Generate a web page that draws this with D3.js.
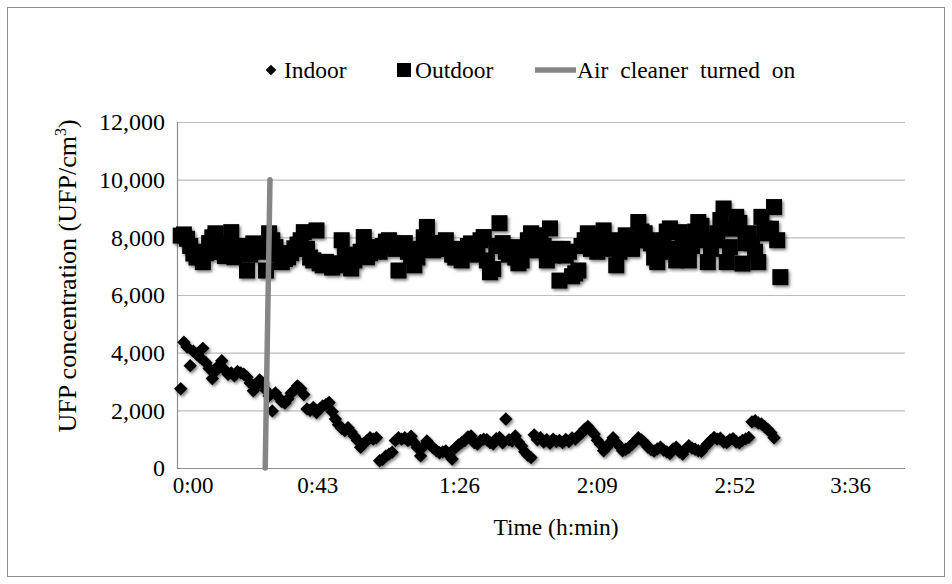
<!DOCTYPE html>
<html>
<head>
<meta charset="utf-8">
<script src="https://cdn.jsdelivr.net/npm/d3@7/dist/d3.min.js"></script>
<style>
  body { margin: 0; background: #fff; }
  svg text { font-family: "Liberation Serif", "Times New Roman", Times, serif; fill: #000; }
</style>
</head>
<body>
<div id="chart"></div>
<script>
const WIDTH = 952;
const HEIGHT = 584;
const SERIF = '"Liberation Serif", "Times New Roman", Times, serif';

// sampling: one reading about every minute, first reading just before 0:00
const START_MIN = -0.9;
const SAMPLE_MIN = 0.99;

const INDOOR = [
  2750,4360,4200,3550,4050,3950,3850,4150,3650,3450,
  3100,3350,3550,3720,3400,3250,3300,3200,3350,3300,
  3250,3150,2950,2680,2850,3050,2950,2700,2500,1980,
  2600,2450,2300,2250,2400,2600,2700,2850,2750,2550,
  2050,2000,2100,1920,2050,2150,2200,2270,1950,1700,
  1500,1380,1300,1400,1250,1100,950,720,850,950,
  1050,1000,1050,250,300,420,480,550,950,1050,
  1000,1050,950,1100,880,700,420,750,940,800,
  700,600,530,560,590,450,310,700,800,880,
  950,1080,1110,880,830,960,1000,980,880,840,
  1020,1060,870,1700,980,930,1110,900,765,560,
  440,360,1150,980,1050,900,980,860,1000,920,
  960,880,990,920,1040,1000,1120,1200,1350,1440,
  1300,1180,960,820,600,720,880,1050,880,760,
  600,650,720,820,930,1050,970,880,730,640,
  590,660,720,620,560,500,660,720,560,480,
  660,770,690,650,600,580,720,840,960,1060,
  1000,1030,900,880,980,1020,900,870,960,1010,
  1060,1600,1640,1560,1530,1430,1340,1220,1050
];

const OUTDOOR = [
  8060,8100,7950,7700,7440,7300,7500,7140,7450,7800,
  8000,8140,7700,7490,7350,7800,8180,7310,7550,7700,
  7500,6850,7400,7790,7700,7620,7500,6850,8140,7900,
  7660,7400,7140,7250,7310,7450,7620,7750,7900,8180,
  7600,7300,7200,8240,7100,7030,7150,7050,6950,7030,
  7100,7900,7400,7050,6920,7200,7350,7500,8010,7310,
  7450,7600,7660,7500,7700,7850,7900,7750,7600,6850,
  7720,7800,7500,7350,7030,7300,7600,8000,8360,7800,
  7550,7700,7600,7800,7900,7600,7400,7300,7500,7200,
  7600,7700,7790,7400,7550,7900,8010,7200,6790,6900,
  7700,8490,7800,7500,7400,7660,7300,7100,7200,7600,
  7900,8140,7550,7800,8070,7700,7200,8310,7370,7600,
  6500,7600,7370,7500,6650,6750,6850,7700,7900,8140,
  7600,7720,7500,8000,8240,7600,7700,7900,7030,7500,
  7800,8070,7700,7600,7900,8530,8200,8140,7900,7790,
  7300,7140,7500,7900,8200,8310,7600,7200,8180,8000,
  7500,7200,7700,8200,8530,8400,7900,7140,7600,7900,
  8140,8600,9000,7140,7660,8300,8710,8500,7090,7800,
  8140,7790,7500,7140,8710,8300,8140,8300,9050,7900,
  6620
];

// air cleaner marker line (minutes, UFP/cm3)
const CLEANER_TIME = [25.6, 27.1];
const CLEANER_VALUE = [0, 10000];

const Y_TICKS = [0, 2000, 4000, 6000, 8000, 10000, 12000];
const X_TICKS = [0, 43.2, 86.4, 129.6, 172.8, 216];
const X_LABELS = ['0:00', '0:43', '1:26', '2:09', '2:52', '3:36'];
// Excel pulls the end labels a bit inwards
const X_LABEL_NUDGE = [9, -4, 0, 0, 0, -22];

const LEGEND = ['Indoor', 'Outdoor', 'Air cleaner turned on'];

const plot = { left: 177, right: 905, top: 122, bottom: 468 };

const svg = d3.select('#chart').append('svg')
  .attr('width', WIDTH)
  .attr('height', HEIGHT)
  .attr('font-family', SERIF);

const defs = svg.append('defs');
defs.append('filter')
  .attr('id', 'shadow')
  .attr('x', '-10%').attr('y', '-10%')
  .attr('width', '120%').attr('height', '130%')
  .append('feDropShadow')
  .attr('dx', 1.5).attr('dy', 2)
  .attr('stdDeviation', 1.6)
  .attr('flood-color', '#000')
  .attr('flood-opacity', 0.5);

// chart frame
svg.append('rect')
  .attr('x', 7.5).attr('y', 7.5)
  .attr('width', 937).attr('height', 569)
  .attr('fill', '#fff')
  .attr('stroke', '#8c8c8c')
  .attr('stroke-width', 1);

const x = d3.scaleLinear().domain([-2.07, 226.3]).range([plot.left, plot.right]);
const y = d3.scaleLinear().domain([0, 12000]).range([plot.bottom, plot.top]);

// gridlines
svg.append('g')
  .selectAll('line')
  .data(Y_TICKS.filter(d => d > 0))
  .enter()
  .append('line')
  .attr('x1', plot.left).attr('x2', plot.right)
  .attr('y1', d => y(d) + 0.5).attr('y2', d => y(d) + 0.5)
  .attr('stroke', '#bdbdbd')
  .attr('stroke-width', 1.2);

// axes lines
svg.append('line')
  .attr('x1', plot.left + 0.5).attr('x2', plot.left + 0.5)
  .attr('y1', plot.top).attr('y2', plot.bottom)
  .attr('stroke', '#8c8c8c').attr('stroke-width', 1.2);
svg.append('line')
  .attr('x1', plot.left).attr('x2', plot.right)
  .attr('y1', plot.bottom + 0.5).attr('y2', plot.bottom + 0.5)
  .attr('stroke', '#8c8c8c').attr('stroke-width', 1.2);

// y tick labels
const yAxis = d3.axisLeft(y)
  .tickValues(Y_TICKS)
  .tickSize(0)
  .tickPadding(12)
  .tickFormat(d3.format(','));
const gy = svg.append('g')
  .attr('transform', 'translate(' + plot.left + ',0)')
  .call(yAxis)
  .attr('font-family', SERIF)
  .attr('font-size', 24);
gy.select('.domain').remove();

// x tick labels
const xAxis = d3.axisBottom(x)
  .tickValues(X_TICKS)
  .tickSize(0)
  .tickPadding(9)
  .tickFormat((d, i) => X_LABELS[i]);
const gx = svg.append('g')
  .attr('transform', 'translate(0,' + plot.bottom + ')')
  .call(xAxis)
  .attr('font-family', SERIF)
  .attr('font-size', 23);
gx.select('.domain').remove();
gx.selectAll('text').attr('dx', (d, i) => X_LABEL_NUDGE[i]);

// axis titles
svg.append('text')
  .attr('x', 556).attr('y', 535)
  .attr('text-anchor', 'middle')
  .attr('font-size', 23.5)
  .text('Time (h:min)');

const ylab = svg.append('text')
  .attr('transform', 'translate(76,276) rotate(-90)')
  .attr('text-anchor', 'middle')
  .attr('font-size', 26);
ylab.append('tspan').text('UFP concentration (UFP/cm');
ylab.append('tspan').attr('dy', -10).attr('font-size', 16).text('3');
ylab.append('tspan').attr('dy', 10).text(')');

// outdoor squares
const SQ = 16;
svg.append('g')
  .attr('filter', 'url(#shadow)')
  .selectAll('rect')
  .data(OUTDOOR.map((v, i) => ({ t: START_MIN + i * SAMPLE_MIN, v: v })))
  .enter()
  .append('rect')
  .attr('x', d => x(d.t) - SQ / 2)
  .attr('y', d => y(d.v) - SQ / 2)
  .attr('width', SQ)
  .attr('height', SQ)
  .attr('fill', '#000');

// indoor diamonds
const diamond = d3.symbol().type(d3.symbolDiamond2).size(114);
svg.append('g')
  .attr('filter', 'url(#shadow)')
  .selectAll('path')
  .data(INDOOR.map((v, i) => ({ t: START_MIN + i * SAMPLE_MIN, v: v })))
  .enter()
  .append('path')
  .attr('d', diamond)
  .attr('transform', d => 'translate(' + x(d.t) + ',' + y(d.v) + ')')
  .attr('fill', '#000');

// air cleaner line
svg.append('path')
  .datum(CLEANER_TIME.map((t, i) => [t, CLEANER_VALUE[i]]))
  .attr('d', d3.line().x(d => x(d[0])).y(d => y(d[1])))
  .attr('fill', 'none')
  .attr('stroke', '#868686')
  .attr('stroke-width', 5.5)
  .attr('stroke-linecap', 'round');

// legend
const lg = svg.append('g').attr('font-size', 23.5);
lg.append('path')
  .attr('d', d3.symbol().type(d3.symbolDiamond2).size(72))
  .attr('transform', 'translate(271,70)')
  .attr('fill', '#000');
lg.append('text').attr('x', 284).attr('y', 78).text(LEGEND[0]);
lg.append('rect')
  .attr('x', 397).attr('y', 63).attr('width', 14).attr('height', 14)
  .attr('fill', '#000');
lg.append('text').attr('x', 415).attr('y', 78).text(LEGEND[1]);
lg.append('line')
  .attr('x1', 535).attr('x2', 576).attr('y1', 70).attr('y2', 70)
  .attr('stroke', '#868686').attr('stroke-width', 5.5);
lg.append('text').attr('x', 577).attr('y', 78)
  .style('word-spacing', '6px')
  .text(LEGEND[2]);
</script>
</body>
</html>
